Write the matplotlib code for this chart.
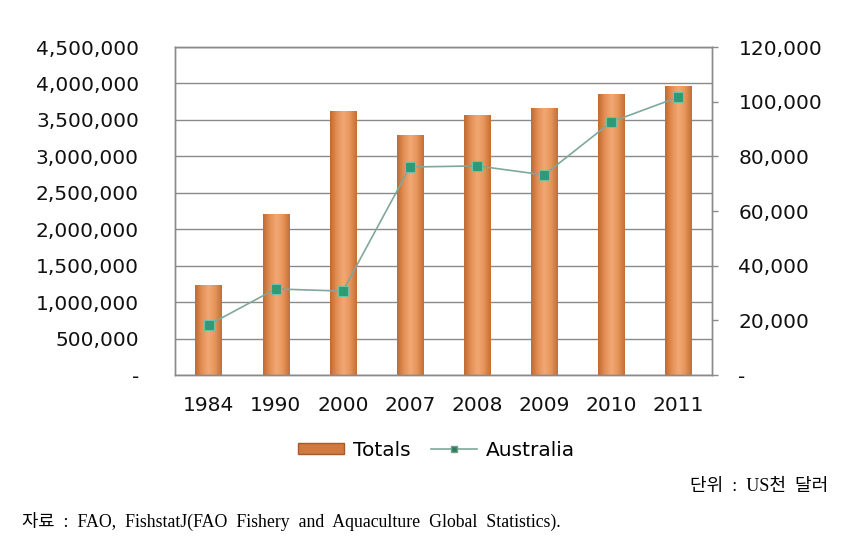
import matplotlib
matplotlib.use('Agg')
import matplotlib.pyplot as plt
import numpy as np
from matplotlib.colors import LinearSegmentedColormap
from matplotlib.ticker import FuncFormatter, MultipleLocator
from matplotlib.patches import Rectangle
from matplotlib.lines import Line2D

# data
years = ['1984', '1990', '2000', '2007', '2008', '2009', '2010', '2011']
totals = [1230000, 2210000, 3620000, 3290000, 3570000, 3660000, 3860000, 3960000]
australia = [18300, 31500, 30700, 76100, 76500, 73200, 92600, 101700]

plt.rcParams['font.family'] = ['DejaVu Sans']

fig = plt.figure(figsize=(8.59, 5.41), dpi=100)
ax = fig.add_axes([0.2037, 0.3068, 0.6252, 0.6063])
ax2 = ax.twinx()

x = np.arange(len(years))
bw = 0.39

# cylinder-like gradient for the bars
cyl = LinearSegmentedColormap.from_list(
    'cyl', ['#bf6a32', '#e38f55', '#f2a874', '#e6955a', '#c46e36'])
grad = np.linspace(0, 1, 64).reshape(1, -1)
bars = ax.bar(x, totals, width=bw, color='#e08c52', zorder=2)
for b in bars:
    x0, w, h = b.get_x(), b.get_width(), b.get_height()
    im = ax.imshow(grad, cmap=cyl, aspect='auto', zorder=2.1,
                   extent=[x0, x0 + w, 0, h], interpolation='bicubic')
    im.set_clip_path(b)

fmt = FuncFormatter(lambda v, p: '-' if v == 0 else f'{int(v):,}')

ax.set_xlim(-0.5, len(years) - 0.5)
ax.set_ylim(0, 4500000)
ax.yaxis.set_major_locator(MultipleLocator(500000))
ax.yaxis.set_major_formatter(fmt)
ax.grid(axis='y', color='#8a8a8a', linewidth=1.0, zorder=0)
ax.set_axisbelow(True)
ax.set_xticks(x)
ax.set_xticklabels(years)
ax.tick_params(axis='x', length=0, labelsize=14.5, colors='#111111', pad=15)
ax.tick_params(axis='y', length=0, labelsize=14.5, colors='#111111', pad=26)

ax2.plot(x, australia, color='#7fa89a', linewidth=1.2, marker='s', markersize=6.5,
         markerfacecolor='#2f9a78', markeredgecolor='#6fc0a4', markeredgewidth=0.8,
         zorder=5)
ax2.set_ylim(0, 120000)
ax2.yaxis.set_major_locator(MultipleLocator(20000))
ax2.yaxis.set_major_formatter(fmt)
ax2.tick_params(axis='y', length=4, width=1, labelsize=14.5,
                labelcolor='#111111', color='#8a8a8a', pad=15)

for a in (ax, ax2):
    for s in a.spines.values():
        s.set_color('#8a8a8a')
        s.set_linewidth(1.0)

handles = [Rectangle((0, 0), 1, 1, facecolor='#d07a40', edgecolor='#a85a28'),
           Line2D([], [], color='#7fa89a', linewidth=1.2, marker='s', markersize=5,
                  markerfacecolor='#2f7a5a', markeredgecolor='#6fa08a')]
fig.legend(handles, ['Totals', 'Australia'], loc='center', ncol=2,
           bbox_to_anchor=(0.508, 1 - 450 / 541), frameon=False, fontsize=14.5,
           handlelength=2.3, handleheight=0.5, columnspacing=1.0, handletextpad=0.45)

serif = ['Liberation Serif', 'Noto Sans CJK KR']
fig.text(828 / 859, 1 - 487 / 541, '단위  :  US천  달러', ha='right', va='center',
         fontsize=13, family=serif)
fig.text(22 / 859, 1 - 521 / 541,
         '자료  :  FAO,  FishstatJ(FAO  Fishery  and  Aquaculture  Global  Statistics).',
         ha='left', va='center', fontsize=12.75, family=serif)

fig.savefig('out.png', dpi=100)
